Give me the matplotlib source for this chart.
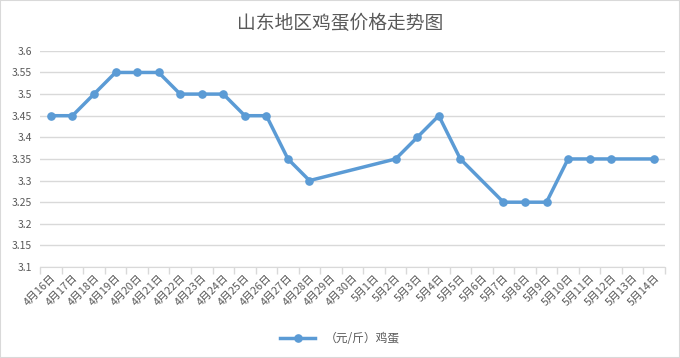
import numpy as np
import matplotlib.pyplot as plt

plt.rcParams['font.family'] = ['Noto Sans CJK SC', 'DejaVu Sans']

dates = ['4月16日', '4月17日', '4月18日', '4月19日', '4月20日', '4月21日', '4月22日',
         '4月23日', '4月24日', '4月25日', '4月26日', '4月27日', '4月28日', '4月29日',
         '4月30日', '5月1日', '5月2日', '5月3日', '5月4日', '5月5日', '5月6日',
         '5月7日', '5月8日', '5月9日', '5月10日', '5月11日', '5月12日', '5月13日',
         '5月14日']
# None = no price that day (line is joined across the gap)
prices = [3.45, 3.45, 3.50, 3.55, 3.55, 3.55, 3.50, 3.50, 3.50, 3.45, 3.45, 3.35,
          3.30, None, None, None, 3.35, 3.40, 3.45, 3.35, None, 3.25, 3.25, 3.25,
          3.35, 3.35, 3.35, None, 3.35]
yticks = [3.1, 3.15, 3.2, 3.25, 3.3, 3.35, 3.4, 3.45, 3.5, 3.55, 3.6]

xs = [i for i, p in enumerate(prices) if p is not None]
ys = [p for p in prices if p is not None]

fig = plt.figure(figsize=(6.8, 3.58), dpi=100)
ax = fig.add_axes([0.059, 0.254, 0.919, 0.604])

grid_c = '#d9d9d9'
text_c = '#595959'

ax.plot(xs, ys, color='#5b9bd5', lw=2.5, marker='o', ms=5.2, label='（元/斤）鸡蛋',
        solid_joinstyle='round', zorder=3)

ax.set_xlim(-0.5, len(dates) - 0.5)
ax.set_ylim(3.1, 3.6)
ax.set_yticks(yticks)
ax.set_yticklabels([f'{v:g}' for v in yticks], fontsize=7.5, color=text_c)
ax.yaxis.grid(True, color=grid_c, lw=1)
ax.tick_params(axis='y', length=0, pad=6)

ax.set_xticks(range(len(dates)))
ax.set_xticklabels(dates, rotation=45, ha='right', rotation_mode='anchor',
                   fontsize=7.8, color=text_c)
ax.tick_params(axis='x', which='major', length=0, pad=4)
ax.set_xticks(np.arange(-0.5, len(dates)), minor=True)
ax.tick_params(axis='x', which='minor', length=5, color=grid_c, width=1)

for s in ['top', 'right', 'left']:
    ax.spines[s].set_visible(False)
ax.spines['bottom'].set_color(grid_c)
ax.set_axisbelow(True)

fig.suptitle('山东地区鸡蛋价格走势图', y=0.965, fontsize=13.5, color=text_c)
fig.legend(loc='center', bbox_to_anchor=(0.5, 0.055), frameon=False,
           fontsize=8.5, labelcolor=text_c, handlelength=3)

fig.patches.append(plt.Rectangle((0, 0), 1, 1, transform=fig.transFigure,
                                 fill=False, edgecolor='#d9d9d9', lw=1.5))

fig.savefig('out.png', dpi=100)
